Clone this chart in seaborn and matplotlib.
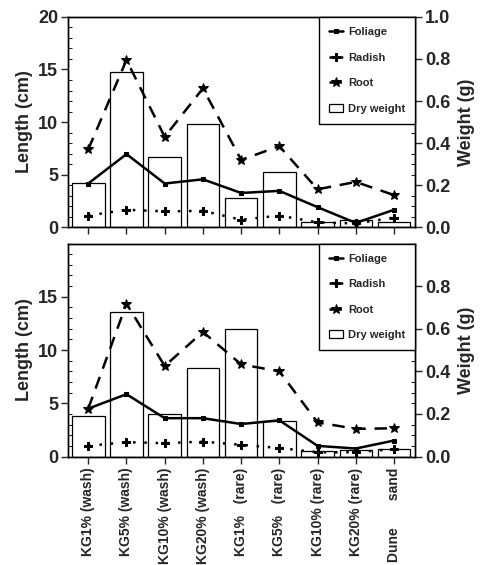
import numpy as np
import matplotlib
matplotlib.use("Agg")
import matplotlib.pyplot as plt
from matplotlib.ticker import MultipleLocator
from matplotlib.patches import Patch
import seaborn as sns

sns.set_style("ticks")
plt.rcParams['font.family'] = ['Liberation Sans', 'DejaVu Sans']
plt.rcParams['font.weight'] = 'bold'

# categories (x axis)
cats = ["KG1% (wash)", "KG5% (wash)", "KG10% (wash)", "KG20% (wash)",
        "KG1%   (rare)", "KG5%   (rare)", "KG10% (rare)", "KG20% (rare)",
        "Dune       sand"]
xpos = np.arange(len(cats))

# top panel - lengths in cm, dry weight in g
foliage_top = [4.15, 6.95, 4.15, 4.55, 3.25, 3.45, 1.9, 0.4, 1.65]
radish_top = [1.1, 1.65, 1.5, 1.55, 0.7, 1.1, 0.45, 0.35, 0.9]
root_top = [7.4, 15.9, 8.6, 13.2, 6.4, 7.7, 3.6, 4.3, 3.05]
dry_top = [0.21, 0.737, 0.336, 0.491, 0.139, 0.264, 0.024, 0.035, 0.023]

# bottom panel
foliage_bot = [4.5, 5.85, 3.6, 3.6, 3.05, 3.4, 1.0, 0.75, 1.5]
radish_bot = [1.0, 1.35, 1.25, 1.4, 1.1, 0.8, 0.4, 0.4, 0.7]
root_bot = [4.5, 14.35, 8.5, 11.7, 8.65, 8.0, 3.2, 2.6, 2.65]
dry_bot = [0.189, 0.678, 0.199, 0.417, 0.597, 0.167, 0.028, 0.03, 0.036]

fig = plt.figure(figsize=(4.84, 5.65), dpi=100)
ax_top = fig.add_axes([0.1405, 0.598, 0.717, 0.372])
ax_bot = fig.add_axes([0.1405, 0.192, 0.717, 0.377])


def draw_panel(ax, foliage, radish, root, dry, last):
    ax2 = ax.twinx()
    sns.barplot(x=xpos, y=dry, ax=ax2, color='white', edgecolor='black',
                linewidth=0.9, width=0.85, saturation=1)
    sns.lineplot(x=xpos, y=foliage, ax=ax, color='black', lw=1.8,
                 marker='s', markersize=3.2, markeredgecolor='black', label='Foliage')
    sns.lineplot(x=xpos, y=radish, ax=ax, color='black', lw=1.8,
                 linestyle=(0, (1, 3.5)), marker='P', markersize=5.5,
                 markeredgecolor='black', label='Radish')
    sns.lineplot(x=xpos, y=root, ax=ax, color='black', lw=1.8,
                 linestyle=(0, (5, 3.5)), marker='*', markersize=7.5,
                 markeredgecolor='black', label='Root')

    ax.set_zorder(ax2.get_zorder() + 1)
    ax.patch.set_visible(False)

    ax.set_xlim(-0.53, 8.55)
    ax.set_ylim(0, 20)
    ax2.set_ylim(0, 1.0)
    ax.set_xticks(xpos)
    if last:
        ax.set_xticklabels(cats, rotation=90, fontsize=10, fontweight='bold')
        ax.set_yticks([0, 5, 10, 15])
        ax2.set_yticks([0, 0.2, 0.4, 0.6, 0.8])
    else:
        ax.set_xticklabels([])
        ax.set_yticks([0, 5, 10, 15, 20])
        ax2.set_yticks([0, 0.2, 0.4, 0.6, 0.8, 1.0])
    ax2.set_yticklabels([f"{v:.1f}" for v in ax2.get_yticks()])
    ax.yaxis.set_minor_locator(MultipleLocator(1))
    ax2.yaxis.set_minor_locator(MultipleLocator(0.05))

    ax.set_xlabel('')
    ax2.set_xlabel('')
    ax.set_ylabel('Length (cm)', fontsize=13, fontweight='bold', labelpad=4)
    ax2.set_ylabel('Weight (g)', fontsize=13, fontweight='bold', labelpad=6)

    for a in (ax, ax2):
        a.tick_params(axis='y', which='major', direction='out', length=5,
                      width=1, labelsize=13, pad=2)
        a.tick_params(axis='y', which='minor', direction='in', length=3, width=0.8)
        for s in a.spines.values():
            s.set_visible(True)
            s.set_linewidth(1.0)
            s.set_color('black')
    ax.tick_params(axis='x', which='major', direction='out', length=5, width=1, pad=3)
    ax2.tick_params(axis='y', which='both', right=True, left=False)

    handles, labels = ax.get_legend_handles_labels()
    handles.append(Patch(facecolor='white', edgecolor='black', linewidth=0.9))
    labels.append('Dry weight')
    leg = ax.legend(handles, labels, loc='upper right', borderaxespad=0,
                    fontsize=8, handlelength=1.3, handletextpad=0.4,
                    labelspacing=1.4, borderpad=0.9, fancybox=False,
                    framealpha=1, edgecolor='black')
    leg.get_frame().set_linewidth(1.0)
    for t in leg.get_texts():
        t.set_fontweight('bold')


draw_panel(ax_top, foliage_top, radish_top, root_top, dry_top, last=False)
draw_panel(ax_bot, foliage_bot, radish_bot, root_bot, dry_bot, last=True)

fig.savefig("out.png", dpi=100)
